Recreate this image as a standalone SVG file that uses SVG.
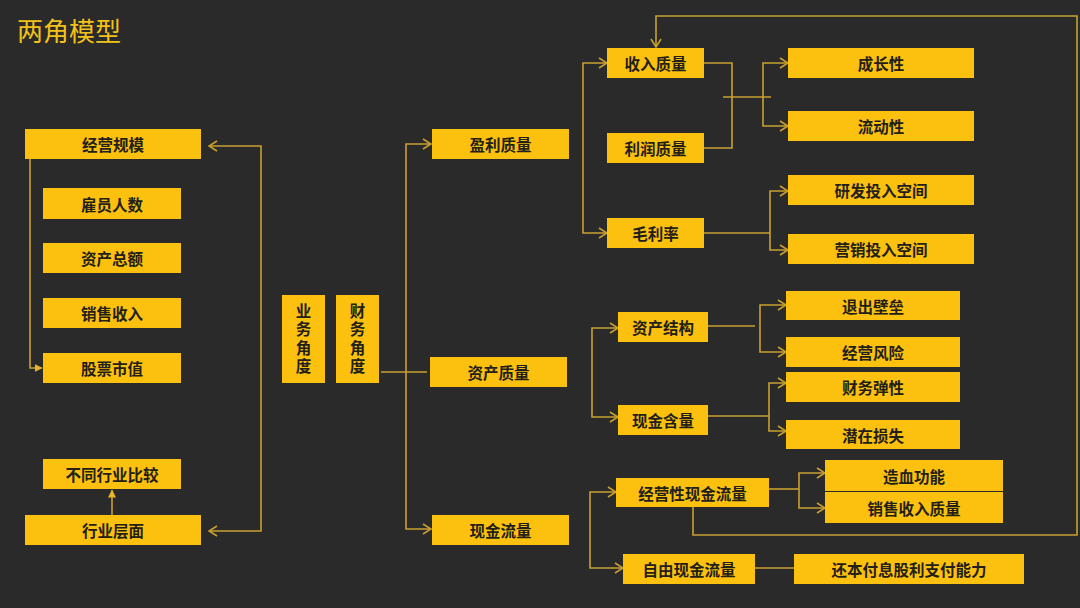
<svg xmlns="http://www.w3.org/2000/svg" width="1080" height="608" viewBox="0 0 1080 608">
<style>
.bx{fill:#fcc10e;}
.t{font-family:"Noto Sans CJK SC","Noto Sans",sans-serif;font-weight:bold;font-size:15.5px;fill:#222018;text-anchor:middle;dominant-baseline:central;}
.v{font-family:"Noto Sans CJK SC","Noto Sans",sans-serif;font-weight:bold;font-size:15.5px;fill:#222018;writing-mode:vertical-rl;letter-spacing:3px;}
.c{fill:none;stroke:#c9a030;stroke-width:1.6;}
.title{font-family:"Noto Sans CJK SC","Noto Sans",sans-serif;font-size:26px;fill:#f2c21b;}
</style>
<defs>
<marker id="a" viewBox="0 0 10 12" refX="9" refY="6" markerWidth="10" markerHeight="12" markerUnits="userSpaceOnUse" orient="auto-start-reverse"><path d="M1,1 L9,6 L1,11" fill="none" stroke="#c9a030" stroke-width="1.6"/></marker>
<marker id="f" viewBox="0 0 8 8" refX="7.5" refY="4" markerWidth="8" markerHeight="8" markerUnits="userSpaceOnUse" orient="auto"><path d="M0,0 L8,4 L0,8 z" fill="#e8b82a"/></marker>
</defs>
<rect width="1080" height="608" fill="#2a2a2a"/>
<text class="title" x="17" y="41">两角模型</text>

<g id="connectors">
<path class="c" d="M30,159 V368 H42" marker-end="url(#f)"/>
<path class="c" d="M209,146 H261 V531 H209" marker-start="url(#a)" marker-end="url(#a)"/>
<path class="c" d="M112,515 V490" marker-end="url(#f)"/>
<path class="c" d="M381,372 H427"/>
<path class="c" d="M431,144 H406 V529 H431" marker-start="url(#a)" marker-end="url(#a)"/>
<path class="c" d="M607,63 H583 V233 H607" marker-start="url(#a)" marker-end="url(#a)"/>
<path class="c" d="M704,63 H732 V148 H704"/>
<path class="c" d="M723,97 H771"/>
<path class="c" d="M788,63 H763 V126 H788" marker-start="url(#a)" marker-end="url(#a)"/>
<path class="c" d="M704,233 H770"/>
<path class="c" d="M788,191 H770 V250 H788" marker-start="url(#a)" marker-end="url(#a)"/>
<path class="c" d="M618,328 H592 V417 H618" marker-start="url(#a)" marker-end="url(#a)"/>
<path class="c" d="M708,326 H755"/>
<path class="c" d="M786,305 H760 V352 H786" marker-start="url(#a)" marker-end="url(#a)"/>
<path class="c" d="M708,416 H769"/>
<path class="c" d="M786,383 H769 V431 H786" marker-start="url(#a)" marker-end="url(#a)"/>
<path class="c" d="M769,489 H799"/>
<path class="c" d="M825,473 H799 V508 H825" marker-start="url(#a)" marker-end="url(#a)"/>
<path class="c" d="M693,507 V535 H1077 V16 H656 V47" marker-end="url(#a)"/>
<path class="c" d="M616,492 H590 V568 H623" marker-start="url(#a)" marker-end="url(#a)"/>
<path class="c" d="M755,568 H794"/>
</g>

<g id="n1"><rect class="bx" x="25" y="129" width="176" height="30"/><text class="t" x="113" y="144">经营规模</text></g>
<g id="n2"><rect class="bx" x="43" y="188" width="138" height="31"/><text class="t" x="112" y="203.5">雇员人数</text></g>
<g id="n3"><rect class="bx" x="43" y="243" width="138" height="30"/><text class="t" x="112" y="258">资产总额</text></g>
<g id="n4"><rect class="bx" x="43" y="298" width="138" height="30"/><text class="t" x="112" y="313">销售收入</text></g>
<g id="n5"><rect class="bx" x="43" y="353" width="138" height="30"/><text class="t" x="112" y="368">股票市值</text></g>
<g id="n6"><rect class="bx" x="43" y="459" width="138" height="30"/><text class="t" x="112" y="474">不同行业比较</text></g>
<g id="n7"><rect class="bx" x="25" y="515" width="176" height="30"/><text class="t" x="113" y="530">行业层面</text></g>

<g id="n8"><rect class="bx" x="282" y="295" width="43" height="88"/><text class="v" x="303.5" y="303">业务角度</text></g>
<g id="n9"><rect class="bx" x="336" y="295" width="43" height="88"/><text class="v" x="357.5" y="303">财务角度</text></g>

<g id="n10"><rect class="bx" x="432" y="129" width="137" height="30"/><text class="t" x="500.5" y="144">盈利质量</text></g>
<g id="n11"><rect class="bx" x="430" y="357" width="137" height="30"/><text class="t" x="498.5" y="372">资产质量</text></g>
<g id="n12"><rect class="bx" x="432" y="515" width="137" height="30"/><text class="t" x="500.5" y="530">现金流量</text></g>

<g id="n13"><rect class="bx" x="607" y="48" width="97" height="30"/><text class="t" x="655.5" y="63">收入质量</text></g>
<g id="n14"><rect class="bx" x="607" y="133" width="97" height="30"/><text class="t" x="655.5" y="148">利润质量</text></g>
<g id="n15"><rect class="bx" x="607" y="218" width="97" height="30"/><text class="t" x="655.5" y="233">毛利率</text></g>
<g id="n16"><rect class="bx" x="788" y="48" width="186" height="30"/><text class="t" x="881" y="63">成长性</text></g>
<g id="n17"><rect class="bx" x="788" y="111" width="186" height="30"/><text class="t" x="881" y="126">流动性</text></g>
<g id="n18"><rect class="bx" x="788" y="175" width="186" height="30"/><text class="t" x="881" y="190">研发投入空间</text></g>
<g id="n19"><rect class="bx" x="788" y="234" width="186" height="30"/><text class="t" x="881" y="249">营销投入空间</text></g>

<g id="n20"><rect class="bx" x="618" y="312" width="90" height="30"/><text class="t" x="663" y="327">资产结构</text></g>
<g id="n21"><rect class="bx" x="618" y="405" width="90" height="30"/><text class="t" x="663" y="420">现金含量</text></g>
<g id="n22"><rect class="bx" x="786" y="291" width="174" height="29"/><text class="t" x="873" y="305.5">退出壁垒</text></g>
<g id="n23"><rect class="bx" x="786" y="337" width="174" height="30"/><text class="t" x="873" y="352">经营风险</text></g>
<g id="n24"><rect class="bx" x="786" y="372" width="174" height="30"/><text class="t" x="873" y="387">财务弹性</text></g>
<g id="n25"><rect class="bx" x="786" y="420" width="174" height="29"/><text class="t" x="873" y="434.5">潜在损失</text></g>

<g id="n26"><rect class="bx" x="616" y="478" width="153" height="29"/><text class="t" x="692.5" y="492.5">经营性现金流量</text></g>
<g id="n27"><rect class="bx" x="825" y="460" width="178" height="31"/><text class="t" x="914" y="475.5">造血功能</text></g>
<g id="n28"><rect class="bx" x="825" y="492" width="178" height="31"/><text class="t" x="914" y="507.5">销售收入质量</text></g>
<g id="n29"><rect class="bx" x="623" y="554" width="132" height="30"/><text class="t" x="689" y="569">自由现金流量</text></g>
<g id="n30"><rect class="bx" x="794" y="554" width="230" height="30"/><text class="t" x="909" y="569">还本付息股利支付能力</text></g>
</svg>
